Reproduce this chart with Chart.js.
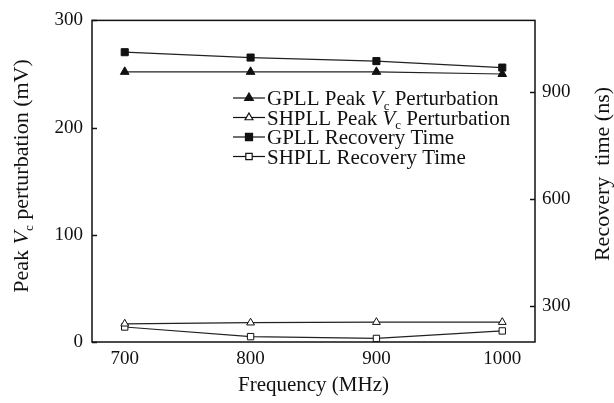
<!DOCTYPE html>
<html>
<head>
<meta charset="utf-8">
<script src="https://cdn.jsdelivr.net/npm/chart.js@4/dist/chart.umd.min.js"></script>
<style>
	html, body { margin: 0; padding: 0; background: #fff; }
</style>
</head>
<body>
<canvas id="perturbationChart" width="614" height="403"></canvas>
<script>
// 데이터
const frequencies = [700, 800, 900, 1000];
const gpllPeak = [252, 252, 252, 250];
const shpllPeak = [17, 18, 18.5, 18.5];
const gpllRecovery = [1011, 996, 986, 968];
const shpllRecovery = [242, 215, 210, 231];
const xTicks = [700, 800, 900, 1000];
const leftTicks = [0, 100, 200, 300];
const rightTicks = [300, 600, 900];

const SERIF = '"Liberation Serif", "Times New Roman", serif';
const INK = '#111';

function toPoints(values) {
	return frequencies.map((f, i) => ({ x: f, y: values[i] }));
}

// 이탤릭 V + 아래첨자 c 등을 그리는 함수
function segFont(seg, size) {
	if (seg.s === 'i') return 'italic ' + size + 'px ' + SERIF;
	if (seg.s === 'sub') return Math.round(size * 0.6) + 'px ' + SERIF;
	return size + 'px ' + SERIF;
}

function drawRich(ctx, segs, x, y, size) {
	let cx = x;
	segs.forEach(seg => {
		ctx.font = segFont(seg, size);
		const dy = seg.s === 'sub' ? size * 0.22 : 0;
		ctx.fillText(seg.t, cx, y + dy);
		cx += ctx.measureText(seg.t).width;
	});
	return cx - x;
}

function measureRich(ctx, segs, size) {
	let w = 0;
	segs.forEach(seg => {
		ctx.font = segFont(seg, size);
		w += ctx.measureText(seg.t).width;
	});
	return w;
}

const legendRows = [
	[{ t: 'GPLL Peak ' }, { t: 'V', s: 'i' }, { t: 'c', s: 'sub' }, { t: ' Perturbation' }],
	[{ t: 'SHPLL Peak ' }, { t: 'V', s: 'i' }, { t: 'c', s: 'sub' }, { t: ' Perturbation' }],
	[{ t: 'GPLL Recovery Time' }],
	[{ t: 'SHPLL Recovery Time' }]
];

const framePlugin = {
	id: 'framePlugin',
	afterDraw(chart) {
		const ctx = chart.ctx;
		const a = chart.chartArea;
		ctx.save();
		ctx.strokeStyle = INK;
		ctx.fillStyle = INK;
		ctx.lineWidth = 1.5;
		ctx.strokeRect(a.left, a.top, a.right - a.left, a.bottom - a.top);

		// 안쪽 눈금
		const yL = chart.scales.y, yR = chart.scales.y2;
		leftTicks.forEach(v => {
			const py = Math.round(yL.getPixelForValue(v)) + 0.5;
			ctx.beginPath(); ctx.moveTo(a.left, py); ctx.lineTo(a.left + 5, py); ctx.stroke();
		});
		rightTicks.forEach(v => {
			const py = Math.round(yR.getPixelForValue(v)) + 0.5;
			ctx.beginPath(); ctx.moveTo(a.right, py); ctx.lineTo(a.right - 5, py); ctx.stroke();
		});

		ctx.textBaseline = 'alphabetic';
		ctx.textAlign = 'left';

		// 왼쪽 축 제목
		const leftTitle = [{ t: 'Peak ' }, { t: 'V', s: 'i' }, { t: 'c', s: 'sub' }, { t: ' perturbation (mV)' }];
		const lw = measureRich(ctx, leftTitle, 22);
		ctx.save();
		ctx.translate(28, 176);
		ctx.rotate(-Math.PI / 2);
		drawRich(ctx, leftTitle, -lw / 2, 0, 22);
		ctx.restore();

		// 오른쪽 축 제목
		const rightTitle = [{ t: 'Recovery  time (ns)' }];
		const rw = measureRich(ctx, rightTitle, 22);
		ctx.save();
		ctx.translate(609, 174);
		ctx.rotate(-Math.PI / 2);
		drawRich(ctx, rightTitle, -rw / 2, 0, 22);
		ctx.restore();

		// 범례
		chart.data.datasets.forEach((ds, i) => {
			const baseY = 105 + i * 19.5;
			const midY = baseY - 7;
			ctx.strokeStyle = INK;
			ctx.lineWidth = 1.2;
			ctx.beginPath(); ctx.moveTo(233, midY); ctx.lineTo(265, midY); ctx.stroke();
			ctx.fillStyle = ds.pointBackgroundColor;
			Chart.helpers.drawPoint(ctx, {
				pointStyle: ds.pointStyle,
				radius: ds.pointRadius,
				borderWidth: 1,
				rotation: 0
			}, 249, midY);
			ctx.fillStyle = INK;
			drawRich(ctx, legendRows[i], 267, baseY, 21);
		});
		ctx.restore();
	}
};

const ctx = document.getElementById('perturbationChart').getContext('2d');

new Chart(ctx, {
	type: 'line',
	data: {
		datasets: [{
			label: 'GPLL Peak Vc Perturbation',
			data: toPoints(gpllPeak),
			yAxisID: 'y',
			borderColor: '#222',
			borderWidth: 1.2,
			pointStyle: 'triangle',
			pointRadius: 5,
			pointBackgroundColor: INK,
			pointBorderColor: INK,
			pointBorderWidth: 1
		}, {
			label: 'SHPLL Peak Vc Perturbation',
			data: toPoints(shpllPeak),
			yAxisID: 'y',
			borderColor: '#222',
			borderWidth: 1.2,
			pointStyle: 'triangle',
			pointRadius: 4.5,
			pointBackgroundColor: '#fff',
			pointBorderColor: INK,
			pointBorderWidth: 1
		}, {
			label: 'GPLL Recovery Time',
			data: toPoints(gpllRecovery),
			yAxisID: 'y2',
			borderColor: '#222',
			borderWidth: 1.2,
			pointStyle: 'rect',
			pointRadius: 5,
			pointBackgroundColor: INK,
			pointBorderColor: INK,
			pointBorderWidth: 1
		}, {
			label: 'SHPLL Recovery Time',
			data: toPoints(shpllRecovery),
			yAxisID: 'y2',
			borderColor: '#222',
			borderWidth: 1.2,
			pointStyle: 'rect',
			pointRadius: 4.5,
			pointBackgroundColor: '#fff',
			pointBorderColor: INK,
			pointBorderWidth: 1
		}]
	},
	options: {
		responsive: false,
		animation: false,
		layout: { padding: { top: 17, left: 0, right: 0, bottom: 0 } },
		scales: {
			x: {
				type: 'linear',
				min: 674,
				max: 1026,
				afterBuildTicks: scale => { scale.ticks = xTicks.map(v => ({ value: v })); },
				afterFit: scale => { scale.height = 61; },
				grid: { display: false, drawTicks: false },
				border: { display: false },
				ticks: {
					color: INK,
					padding: 6,
					maxRotation: 0,
					callback: v => String(v),
					font: { family: SERIF, size: 19 }
				},
				title: {
					display: true,
					text: 'Frequency (MHz)',
					color: INK,
					padding: { top: 0, bottom: 5 },
					font: { family: SERIF, size: 21 }
				}
			},
			y: {
				position: 'left',
				min: 0,
				max: 300,
				afterBuildTicks: scale => { scale.ticks = leftTicks.map(v => ({ value: v })); },
				afterFit: scale => { scale.width = 92; },
				grid: { display: false, drawTicks: false },
				border: { display: false },
				ticks: { color: INK, padding: 9, font: { family: SERIF, size: 19 } }
			},
			y2: {
				position: 'right',
				min: 200,
				max: 1100,
				afterBuildTicks: scale => { scale.ticks = rightTicks.map(v => ({ value: v })); },
				afterFit: scale => { scale.width = 79; },
				grid: { display: false, drawTicks: false },
				border: { display: false },
				ticks: { color: INK, padding: 7, font: { family: SERIF, size: 19 } }
			}
		},
		plugins: {
			legend: { display: false },
			tooltip: { enabled: false }
		}
	},
	plugins: [framePlugin]
});
</script>
</body>
</html>
